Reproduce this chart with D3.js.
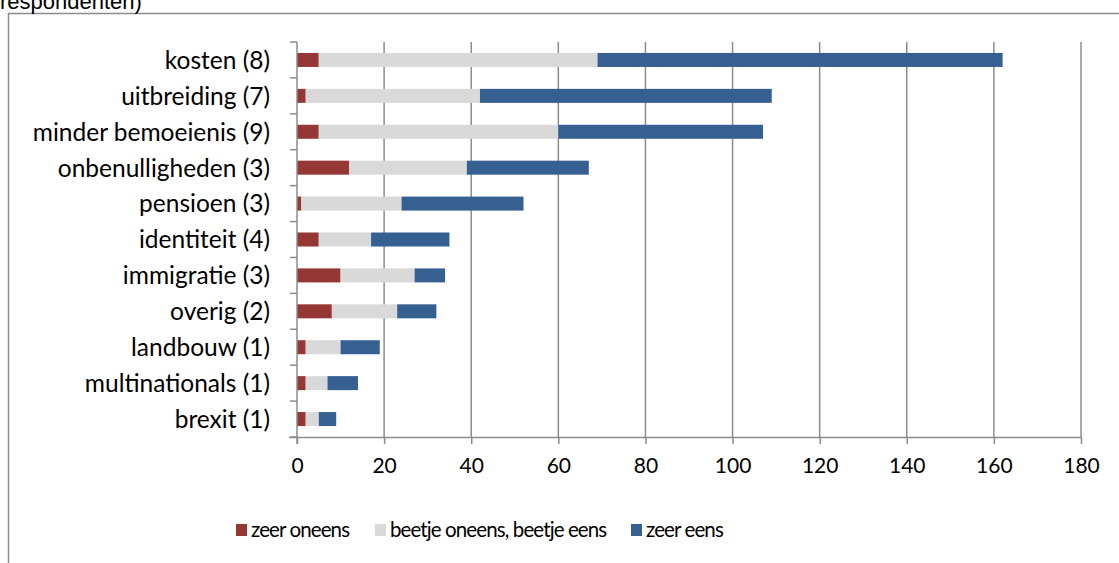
<!DOCTYPE html>
<html>
<head>
<meta charset="utf-8">
<script src="https://cdn.jsdelivr.net/npm/d3@7"></script>
<style>
  body { margin: 0; background: #fff; }
  svg { display: block; }
</style>
</head>
<body>
<script>
// categories top to bottom
var categories = ["kosten (8)", "uitbreiding (7)", "minder bemoeienis (9)", "onbenulligheden (3)",
  "pensioen (3)", "identiteit (4)", "immigratie (3)", "overig (2)", "landbouw (1)",
  "multinationals (1)", "brexit (1)"];
var zeerOneens   = [5, 2, 5, 12, 1, 5, 10, 8, 2, 2, 2];
var beetjeBeetje = [64, 40, 55, 27, 23, 12, 17, 15, 8, 5, 3];
var zeerEens     = [93, 67, 47, 28, 28, 18, 7, 9, 9, 7, 4];
var seriesNames  = ["zeer oneens", "beetje oneens, beetje eens", "zeer eens"];
var colors       = ["#953735", "#d9d9d9", "#376092"];
var xTicks       = [0, 20, 40, 60, 80, 100, 120, 140, 160, 180];

var width = 1119, height = 563;
var font = "Lato, 'Open Sans', sans-serif";

var svg = d3.select("body").append("svg")
  .attr("width", width)
  .attr("height", height);

// chart box (cut off on the right and bottom in the original)
svg.append("path")
  .attr("d", "M8.5," + (height + 5) + "V13.5H" + (width + 5))
  .attr("fill", "none")
  .attr("stroke", "#8c8c8c")
  .attr("stroke-width", 1.5);

// title remains, mostly outside the picture
svg.append("text")
  .attr("x", 0).attr("y", 9)
  .attr("font-family", "'Liberation Sans', Arial, sans-serif")
  .attr("font-size", 22)
  .text("respondenten)");

var plotL = 297, plotR = 1081, plotT = 42, plotB = 437;

var x = d3.scaleLinear().domain([0, 180]).range([plotL, plotR]);
var y = d3.scaleBand().domain(categories).range([plotT, plotB]).paddingInner(0.61).paddingOuter(0.305);

// stacked table built from the arrays
var table = categories.map(function(c, i){
  return { cat: c, a: zeerOneens[i], b: beetjeBeetje[i], c: zeerEens[i] };
});
var stack = d3.stack().keys(["a", "b", "c"])(table);

// vertical gridlines
svg.append("g").selectAll("line")
  .data(xTicks.slice(1))
  .enter().append("line")
  .attr("x1", function(d){ return x(d); })
  .attr("x2", function(d){ return x(d); })
  .attr("y1", plotT).attr("y2", plotB)
  .attr("stroke", "#8c8c8c")
  .attr("stroke-width", 1.5);

// bars
svg.append("g").selectAll("g")
  .data(stack)
  .enter().append("g")
  .attr("fill", function(d, i){ return colors[i]; })
  .selectAll("rect")
  .data(function(d){ return d; })
  .enter().append("rect")
  .attr("x", function(d){ return x(d[0]); })
  .attr("width", function(d){ return x(d[1]) - x(d[0]); })
  .attr("y", function(d){ return y(d.data.cat); })
  .attr("height", y.bandwidth());

// x axis
var xAxis = svg.append("g")
  .attr("transform", "translate(0," + plotB + ")")
  .call(d3.axisBottom(x).tickValues(xTicks).tickSize(7).tickPadding(14).tickSizeOuter(0));
xAxis.select(".domain").attr("stroke", "#8c8c8c").attr("stroke-width", 1.5)
  .attr("d", "M" + (plotL - 8) + ",0.5H" + plotR);
xAxis.selectAll(".tick line").attr("stroke", "#8c8c8c").attr("stroke-width", 1.5);
xAxis.selectAll("text")
  .attr("font-family", font)
  .attr("font-size", 21)
  .attr("fill", "#000");

// y axis line with ticks at category boundaries
var step = y.step();
var bounds = d3.range(categories.length + 1).map(function(i){ return plotT + i * step; });
var yAxis = svg.append("g");
yAxis.append("line")
  .attr("x1", plotL).attr("x2", plotL)
  .attr("y1", plotT).attr("y2", plotB + 7)
  .attr("stroke", "#8c8c8c").attr("stroke-width", 1.5);
yAxis.selectAll(".bt")
  .data(bounds)
  .enter().append("line")
  .attr("class", "bt")
  .attr("x1", plotL - 7).attr("x2", plotL)
  .attr("y1", function(d){ return d; }).attr("y2", function(d){ return d; })
  .attr("stroke", "#8c8c8c").attr("stroke-width", 1.5);
yAxis.selectAll("text")
  .data(categories)
  .enter().append("text")
  .attr("x", plotL - 27)
  .attr("y", function(d){ return y(d) + y.bandwidth() / 2; })
  .attr("dy", "0.36em")
  .attr("text-anchor", "end")
  .attr("font-family", font)
  .attr("font-size", 24.5)
  .text(function(d){ return d; });

// legend
var legendX = [236, 375, 631];
var legend = svg.append("g").selectAll("g")
  .data(seriesNames)
  .enter().append("g")
  .attr("transform", function(d, i){ return "translate(" + legendX[i] + ",524)"; });
legend.append("rect")
  .attr("width", 11).attr("height", 12)
  .attr("fill", function(d, i){ return colors[i]; });
legend.append("text")
  .attr("x", 15).attr("y", 6)
  .attr("dy", "0.36em")
  .attr("font-family", font)
  .attr("font-size", 20.5)
  .attr("letter-spacing", "-0.9px")
  .text(function(d){ return d; });
</script>
</body>
</html>
